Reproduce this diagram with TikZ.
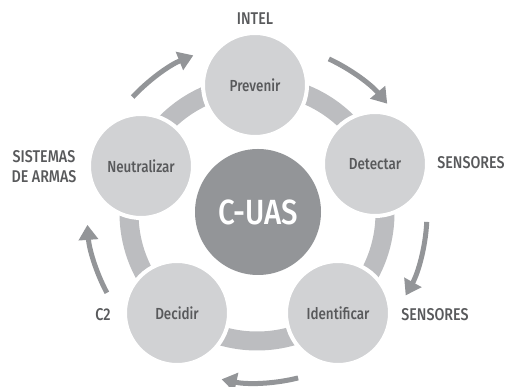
\documentclass[tikz,border=0pt]{standalone}
\usepackage{fontspec}
\setmainfont[FakeStretch=0.84]{Fira Sans Medium}
\usetikzlibrary{arrows.meta,calc}
\definecolor{bandgray}{HTML}{BCBDC0}
\definecolor{nodegray}{HTML}{D1D2D4}
\definecolor{coregray}{HTML}{939598}
\definecolor{arrowgray}{HTML}{939598}
\definecolor{textgray}{HTML}{58595B}
\tikzset{
  stage/.style={circle, fill=nodegray, draw=white, line width=4pt, minimum size=104pt, inner sep=0pt, text=textgray, font=\fontsize{16}{18}\selectfont},
  core/.style={circle, fill=coregray, minimum size=126pt, inner sep=0pt, text=white, font=\fontsize{35}{40}\selectfont},
  tag/.style={text=textgray, font=\fontsize{17}{20}\selectfont, align=center, inner sep=0pt},
  band/.style={draw=bandgray, line width=19pt},
  cyc/.style={draw=arrowgray, line width=5pt, -{Triangle[width=19pt,length=15pt]}}
}
\begin{document}
\begin{tikzpicture}[x=1pt,y=1pt]
\useasboundingbox (0,0) rectangle (514,387);
\coordinate (O) at (257,174);
\draw[band] (O) circle[radius=128pt];
\node[core] (cuas) at (258,175) {C-UAS};
\node[stage] (prev) at (255,302) {Prevenir};
\node[stage] (det) at (375,223) {Detectar};
\node[stage] (ident) at (338,74) {Identificar};
\node[stage] (dec) at (177,74) {Decidir};
\node[stage] (neut) at (141,221) {Neutralizar};
\node[tag] (intel) at (255,368) {INTEL};
\node[tag] (sens1) at (471,224) {SENSORES};
\node[tag] (sens2) at (435,72) {SENSORES};
\node[tag] (c2) at (103,72) {C2};
\node[tag] (armas) at (44,220) {SISTEMAS\\DE ARMAS};
\draw[cyc] ($(O)+(65:170pt)$) arc[start angle=65, end angle=40, radius=170pt];
\draw[cyc] ($(O)+(-3:170pt)$) arc[start angle=-3, end angle=-29, radius=170pt];
\draw[cyc] ($(O)+(-76:170pt)$) arc[start angle=-76, end angle=-102, radius=170pt];
\draw[cyc] ($(O)+(-152:170pt)$) arc[start angle=-152, end angle=-176, radius=170pt];
\draw[cyc] ($(O)+(137:170pt)$) arc[start angle=137, end angle=112, radius=170pt];
\end{tikzpicture}
\end{document}
